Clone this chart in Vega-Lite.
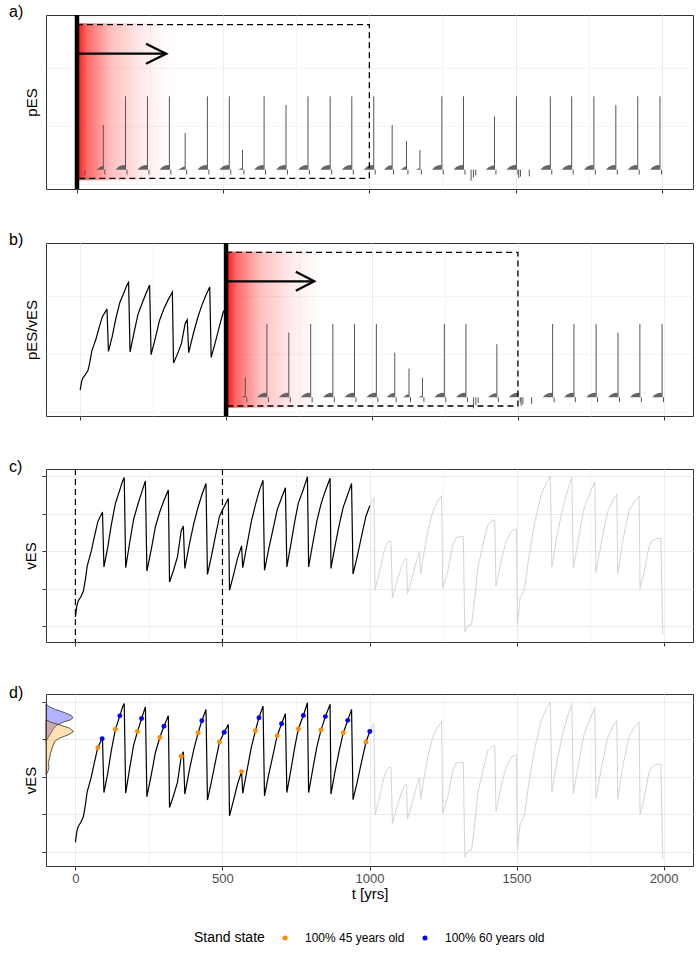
{
"$schema": "https://vega.github.io/schema/vega-lite/v6.json",
"background": "white",
"padding": {"left": 8, "top": 3, "right": 8, "bottom": 5},
"spacing": 37,
"config": {
 "font": "Liberation Sans",
 "view": {"stroke": "#333333", "strokeWidth": 1},
 "axis": {"domain": false, "grid": true, "gridColor": "#EBEBEB", "tickColor": "#333333", "tickSize": 4, "tickWidth": 1, "labels": false, "titleFont": "Liberation Sans", "titleFontWeight": "normal", "titleFontSize": 15, "titleColor": "#000000", "titlePadding": 3, "labelFont": "Liberation Sans", "labelFontSize": 13, "labelColor": "#4D4D4D", "labelPadding": 2},
 "title": {"font": "Liberation Sans", "fontSize": 16, "fontWeight": "normal", "anchor": "start", "frame": "group", "dx": -37, "offset": -7, "color": "#000000"},
 "legend": {"titleFont": "Liberation Sans", "titleFontSize": 14, "titleFontWeight": "normal", "titleColor": "#000000", "labelFont": "Liberation Sans", "labelFontSize": 12, "labelColor": "#000000", "symbolType": "circle", "symbolSize": 25, "labelOffset": 14, "columnPadding": 14, "titlePadding": 14}
},
"datasets": {
 "series": [
  {"t":0,"v":0.25,"h":1},{"t":5,"v":0.55,"h":1},{"t":10,"v":0.68,"h":1},{"t":18,"v":0.78,"h":1},{"t":27,"v":0.93,"h":1},{"t":34,"v":1.25,"h":1},{"t":40,"v":1.6,"h":1},{"t":47,"v":1.8,"h":1},{"t":54,"v":2.0,"h":1},{"t":65,"v":2.4,"h":1},{"t":76,"v":2.78,"h":1},{"t":85,"v":2.93,"h":1},{"t":91,"v":3.02,"h":1},{"t":92,"v":3.04,"h":1},{"t":97,"v":1.58,"h":1},{"t":110,"v":2.1,"h":1},{"t":122,"v":2.7,"h":1},{"t":136,"v":3.27,"h":1},{"t":151,"v":3.63,"h":1},{"t":160,"v":3.86,"h":1},{"t":166,"v":3.96,"h":1},{"t":171,"v":1.56,"h":1},{"t":185,"v":2.25,"h":1},{"t":198,"v":2.85,"h":1},{"t":211,"v":3.21,"h":1},{"t":225,"v":3.56,"h":1},{"t":238,"v":3.87,"h":1},{"t":243,"v":1.47,"h":1},{"t":258,"v":2.05,"h":1},{"t":272,"v":2.65,"h":1},{"t":287,"v":3.05,"h":1},{"t":301,"v":3.35,"h":1},{"t":316,"v":3.63,"h":1},{"t":320,"v":1.18,"h":1},{"t":333,"v":1.48,"h":1},{"t":347,"v":1.85,"h":1},{"t":360,"v":2.55,"h":1},{"t":367,"v":2.67,"h":1},{"t":372,"v":1.54,"h":1},{"t":388,"v":2.2,"h":1},{"t":403,"v":2.75,"h":1},{"t":417,"v":3.17,"h":1},{"t":430,"v":3.5,"h":1},{"t":444,"v":3.8,"h":1},{"t":449,"v":1.38,"h":1},{"t":462,"v":1.85,"h":1},{"t":476,"v":2.4,"h":1},{"t":490,"v":2.93,"h":1},{"t":506,"v":3.19,"h":1},{"t":520,"v":3.4,"h":1},{"t":524,"v":0.96,"h":1},{"t":537,"v":1.35,"h":1},{"t":551,"v":1.8,"h":1},{"t":565,"v":2.14,"h":1},{"t":569,"v":1.56,"h":1},{"t":583,"v":2.15,"h":1},{"t":598,"v":2.78,"h":1},{"t":612,"v":3.23,"h":1},{"t":624,"v":3.58,"h":1},{"t":638,"v":3.89,"h":1},{"t":643,"v":1.49,"h":1},{"t":657,"v":2.05,"h":1},{"t":671,"v":2.55,"h":1},{"t":686,"v":3.1,"h":1},{"t":701,"v":3.42,"h":1},{"t":714,"v":3.69,"h":1},{"t":719,"v":1.58,"h":1},{"t":733,"v":2.2,"h":1},{"t":746,"v":2.8,"h":1},{"t":758,"v":3.28,"h":1},{"t":775,"v":3.64,"h":1},{"t":789,"v":3.98,"h":1},{"t":793,"v":1.58,"h":1},{"t":807,"v":2.2,"h":1},{"t":821,"v":2.8,"h":1},{"t":835,"v":3.25,"h":1},{"t":850,"v":3.61,"h":1},{"t":866,"v":3.94,"h":1},{"t":869,"v":1.54,"h":1},{"t":883,"v":2.15,"h":1},{"t":897,"v":2.7,"h":1},{"t":911,"v":3.18,"h":1},{"t":926,"v":3.51,"h":1},{"t":939,"v":3.8,"h":1},{"t":944,"v":1.39,"h":1},{"t":958,"v":1.85,"h":1},{"t":973,"v":2.4,"h":1},{"t":988,"v":2.93,"h":1},{"t":1001,"v":3.21,"h":1},
  {"t":1001,"v":3.21,"h":2},{"t":1015,"v":3.43,"h":2},{"t":1019,"v":0.98,"h":2},{"t":1034,"v":1.45,"h":2},{"t":1050,"v":2.0,"h":2},{"t":1058,"v":2.18,"h":2},{"t":1064,"v":2.25,"h":2},{"t":1073,"v":2.25,"h":2},{"t":1078,"v":0.76,"h":2},{"t":1096,"v":1.27,"h":2},{"t":1112,"v":1.65,"h":2},{"t":1120,"v":1.78,"h":2},{"t":1126,"v":1.8,"h":2},{"t":1129,"v":0.87,"h":2},{"t":1147,"v":1.36,"h":2},{"t":1162,"v":1.8,"h":2},{"t":1170,"v":1.98,"h":2},{"t":1174,"v":1.4,"h":2},{"t":1185,"v":1.95,"h":2},{"t":1198,"v":2.52,"h":2},{"t":1215,"v":3.05,"h":2},{"t":1230,"v":3.3,"h":2},{"t":1245,"v":3.48,"h":2},{"t":1249,"v":1.02,"h":2},{"t":1266,"v":1.45,"h":2},{"t":1283,"v":2.16,"h":2},{"t":1294,"v":2.36,"h":2},{"t":1305,"v":2.38,"h":2},{"t":1319,"v":2.39,"h":2},{"t":1324,"v":-0.15,"h":2},{"t":1335,"v":0.02,"h":2},{"t":1347,"v":0.04,"h":2},{"t":1359,"v":0.83,"h":2},{"t":1368,"v":1.54,"h":2},{"t":1385,"v":2.16,"h":2},{"t":1402,"v":2.69,"h":2},{"t":1415,"v":2.8,"h":2},{"t":1426,"v":2.83,"h":2},{"t":1430,"v":1.08,"h":2},{"t":1447,"v":1.72,"h":2},{"t":1464,"v":2.25,"h":2},{"t":1481,"v":2.52,"h":2},{"t":1495,"v":2.58,"h":2},{"t":1500,"v":2.59,"h":2},{"t":1503,"v":0.04,"h":2},{"t":1512,"v":0.75,"h":2},{"t":1520,"v":0.85,"h":2},{"t":1528,"v":1.05,"h":2},{"t":1543,"v":1.89,"h":2},{"t":1560,"v":2.69,"h":2},{"t":1583,"v":3.49,"h":2},{"t":1600,"v":3.8,"h":2},{"t":1615,"v":4.0,"h":2},{"t":1620,"v":1.58,"h":2},{"t":1637,"v":2.4,"h":2},{"t":1657,"v":3.14,"h":2},{"t":1675,"v":3.65,"h":2},{"t":1688,"v":3.96,"h":2},{"t":1693,"v":1.54,"h":2},{"t":1712,"v":2.4,"h":2},{"t":1730,"v":3.14,"h":2},{"t":1750,"v":3.55,"h":2},{"t":1766,"v":3.85,"h":2},{"t":1770,"v":1.43,"h":2},{"t":1790,"v":2.3,"h":2},{"t":1810,"v":3.05,"h":2},{"t":1828,"v":3.35,"h":2},{"t":1841,"v":3.52,"h":2},{"t":1844,"v":1.4,"h":2},{"t":1863,"v":2.35,"h":2},{"t":1883,"v":3.09,"h":2},{"t":1900,"v":3.32,"h":2},{"t":1917,"v":3.47,"h":2},{"t":1920,"v":1.0,"h":2},{"t":1934,"v":1.45,"h":2},{"t":1950,"v":2.1,"h":2},{"t":1960,"v":2.27,"h":2},{"t":1975,"v":2.33,"h":2},{"t":1991,"v":2.34,"h":2},{"t":1997,"v":-0.2,"h":2}
 ],
 "pts": [
  {"t":76,"v":2.78,"g":"100% 45 years old"},{"t":136,"v":3.27,"g":"100% 45 years old"},{"t":211,"v":3.21,"g":"100% 45 years old"},{"t":287,"v":3.05,"g":"100% 45 years old"},{"t":360,"v":2.55,"g":"100% 45 years old"},{"t":417,"v":3.17,"g":"100% 45 years old"},{"t":490,"v":2.93,"g":"100% 45 years old"},{"t":565,"v":2.14,"g":"100% 45 years old"},{"t":612,"v":3.23,"g":"100% 45 years old"},{"t":686,"v":3.1,"g":"100% 45 years old"},{"t":758,"v":3.28,"g":"100% 45 years old"},{"t":835,"v":3.25,"g":"100% 45 years old"},{"t":911,"v":3.18,"g":"100% 45 years old"},{"t":988,"v":2.93,"g":"100% 45 years old"},
  {"t":91,"v":3.02,"g":"100% 60 years old"},{"t":151,"v":3.63,"g":"100% 60 years old"},{"t":225,"v":3.56,"g":"100% 60 years old"},{"t":301,"v":3.35,"g":"100% 60 years old"},{"t":430,"v":3.5,"g":"100% 60 years old"},{"t":506,"v":3.19,"g":"100% 60 years old"},{"t":624,"v":3.58,"g":"100% 60 years old"},{"t":701,"v":3.42,"g":"100% 60 years old"},{"t":775,"v":3.64,"g":"100% 60 years old"},{"t":850,"v":3.61,"g":"100% 60 years old"},{"t":926,"v":3.51,"g":"100% 60 years old"},{"t":1001,"v":3.21,"g":"100% 60 years old"}
 ],
 "dens": [
  {"g":"b","v":3.95,"t":-100},{"g":"b","v":3.88,"t":-90},{"g":"b","v":3.8,"t":-68},{"g":"b","v":3.72,"t":-38},{"g":"b","v":3.64,"t":-14},{"g":"b","v":3.58,"t":-8},{"g":"b","v":3.52,"t":-18},{"g":"b","v":3.45,"t":-45},{"g":"b","v":3.37,"t":-66},{"g":"b","v":3.27,"t":-76},{"g":"b","v":3.17,"t":-83},{"g":"b","v":3.07,"t":-91},{"g":"b","v":2.95,"t":-100},
  {"g":"o","v":3.52,"t":-100},{"g":"o","v":3.45,"t":-80},{"g":"o","v":3.38,"t":-50},{"g":"o","v":3.3,"t":-20},{"g":"o","v":3.21,"t":-6},{"g":"o","v":3.12,"t":-25},{"g":"o","v":3.03,"t":-55},{"g":"o","v":2.95,"t":-70},{"g":"o","v":2.8,"t":-78},{"g":"o","v":2.65,"t":-84},{"g":"o","v":2.5,"t":-88},{"g":"o","v":2.38,"t":-92},{"g":"o","v":2.28,"t":-90},{"g":"o","v":2.2,"t":-91},{"g":"o","v":2.12,"t":-95},{"g":"o","v":2.05,"t":-100}
 ],
 "spikes": [
  {"id":1,"t":90,"p":1.54},{"id":2,"t":166,"p":2.53},{"id":3,"t":241,"p":2.53},{"id":4,"t":316,"p":2.53},{"id":5,"t":370,"p":1.26},{"id":6,"t":446,"p":2.53},{"id":7,"t":521,"p":2.53},{"id":8,"t":566,"p":0.68},{"id":9,"t":640,"p":2.53},{"id":10,"t":715,"p":2.23},{"id":11,"t":790,"p":2.53},{"id":12,"t":866,"p":2.53},{"id":13,"t":940,"p":2.53},{"id":14,"t":1015,"p":2.53},{"id":15,"t":1078,"p":1.54},{"id":16,"t":1127,"p":0.99},{"id":17,"t":1173,"p":0.68},{"id":18,"t":1248,"p":2.53},{"id":19,"t":1322,"p":2.53},{"id":20,"t":1428,"p":1.83},{"id":21,"t":1503,"p":2.53},{"id":22,"t":1619,"p":2.53},{"id":23,"t":1692,"p":2.53},{"id":24,"t":1768,"p":2.53},{"id":25,"t":1843,"p":2.23},{"id":26,"t":1918,"p":2.53},{"id":27,"t":1994,"p":2.53}
 ],
 "humps": [
  {"id":1,"t":66,"p":0},{"id":1,"t":74,"p":0.06},{"id":1,"t":82,"p":0.11},{"id":1,"t":89,"p":0.13},
  {"id":2,"t":132,"p":0},{"id":2,"t":142,"p":0.1},{"id":2,"t":154,"p":0.15},{"id":2,"t":165,"p":0.16},
  {"id":3,"t":207,"p":0},{"id":3,"t":217,"p":0.1},{"id":3,"t":229,"p":0.15},{"id":3,"t":240,"p":0.16},
  {"id":4,"t":282,"p":0},{"id":4,"t":292,"p":0.1},{"id":4,"t":304,"p":0.15},{"id":4,"t":315,"p":0.16},
  {"id":5,"t":346,"p":0},{"id":5,"t":356,"p":0.06},{"id":5,"t":364,"p":0.1},{"id":5,"t":369,"p":0.11},
  {"id":6,"t":412,"p":0},{"id":6,"t":422,"p":0.1},{"id":6,"t":434,"p":0.15},{"id":6,"t":445,"p":0.16},
  {"id":7,"t":487,"p":0},{"id":7,"t":497,"p":0.1},{"id":7,"t":509,"p":0.15},{"id":7,"t":520,"p":0.16},
  {"id":8,"t":552,"p":0},{"id":8,"t":560,"p":0.04},{"id":8,"t":565,"p":0.05},
  {"id":9,"t":606,"p":0},{"id":9,"t":616,"p":0.1},{"id":9,"t":628,"p":0.15},{"id":9,"t":639,"p":0.16},
  {"id":10,"t":681,"p":0},{"id":10,"t":691,"p":0.1},{"id":10,"t":703,"p":0.15},{"id":10,"t":714,"p":0.16},
  {"id":11,"t":756,"p":0},{"id":11,"t":766,"p":0.1},{"id":11,"t":778,"p":0.15},{"id":11,"t":789,"p":0.16},
  {"id":12,"t":832,"p":0},{"id":12,"t":842,"p":0.1},{"id":12,"t":854,"p":0.15},{"id":12,"t":865,"p":0.16},
  {"id":13,"t":906,"p":0},{"id":13,"t":916,"p":0.1},{"id":13,"t":928,"p":0.15},{"id":13,"t":939,"p":0.16},
  {"id":14,"t":981,"p":0},{"id":14,"t":991,"p":0.1},{"id":14,"t":1003,"p":0.15},{"id":14,"t":1014,"p":0.16},
  {"id":15,"t":1050,"p":0},{"id":15,"t":1060,"p":0.09},{"id":15,"t":1068,"p":0.14},{"id":15,"t":1077,"p":0.15},
  {"id":16,"t":1107,"p":0},{"id":16,"t":1115,"p":0.06},{"id":16,"t":1121,"p":0.1},{"id":16,"t":1126,"p":0.11},
  {"id":17,"t":1159,"p":0},{"id":17,"t":1167,"p":0.04},{"id":17,"t":1172,"p":0.05},
  {"id":18,"t":1214,"p":0},{"id":18,"t":1224,"p":0.1},{"id":18,"t":1236,"p":0.15},{"id":18,"t":1247,"p":0.16},
  {"id":19,"t":1288,"p":0},{"id":19,"t":1298,"p":0.1},{"id":19,"t":1310,"p":0.15},{"id":19,"t":1321,"p":0.16},
  {"id":20,"t":1398,"p":0},{"id":20,"t":1408,"p":0.08},{"id":20,"t":1418,"p":0.13},{"id":20,"t":1427,"p":0.14},
  {"id":21,"t":1469,"p":0},{"id":21,"t":1479,"p":0.1},{"id":21,"t":1491,"p":0.15},{"id":21,"t":1502,"p":0.16},
  {"id":22,"t":1585,"p":0},{"id":22,"t":1595,"p":0.1},{"id":22,"t":1607,"p":0.15},{"id":22,"t":1618,"p":0.16},
  {"id":23,"t":1658,"p":0},{"id":23,"t":1668,"p":0.1},{"id":23,"t":1680,"p":0.15},{"id":23,"t":1691,"p":0.16},
  {"id":24,"t":1734,"p":0},{"id":24,"t":1744,"p":0.1},{"id":24,"t":1756,"p":0.15},{"id":24,"t":1767,"p":0.16},
  {"id":25,"t":1809,"p":0},{"id":25,"t":1819,"p":0.1},{"id":25,"t":1831,"p":0.15},{"id":25,"t":1842,"p":0.16},
  {"id":26,"t":1884,"p":0},{"id":26,"t":1894,"p":0.1},{"id":26,"t":1906,"p":0.15},{"id":26,"t":1917,"p":0.16},
  {"id":27,"t":1960,"p":0},{"id":27,"t":1970,"p":0.1},{"id":27,"t":1982,"p":0.15},{"id":27,"t":1993,"p":0.16}
 ],
 "negs": [
  {"t":27,"p":-0.2},{"t":95,"p":-0.17},{"t":171,"p":-0.17},{"t":246,"p":-0.17},{"t":321,"p":-0.17},{"t":375,"p":-0.17},{"t":451,"p":-0.17},{"t":526,"p":-0.17},{"t":571,"p":-0.17},{"t":645,"p":-0.17},{"t":720,"p":-0.17},{"t":795,"p":-0.17},{"t":871,"p":-0.17},{"t":945,"p":-0.17},{"t":1020,"p":-0.17},{"t":1083,"p":-0.17},{"t":1132,"p":-0.17},{"t":1178,"p":-0.17},{"t":1253,"p":-0.17},{"t":1327,"p":-0.17},{"t":1348,"p":-0.38},{"t":1356,"p":-0.27},{"t":1364,"p":-0.2},{"t":1433,"p":-0.17},{"t":1508,"p":-0.17},{"t":1511,"p":-0.29},{"t":1517,"p":-0.24},{"t":1547,"p":-0.23},{"t":1624,"p":-0.17},{"t":1697,"p":-0.17},{"t":1773,"p":-0.17},{"t":1848,"p":-0.17},{"t":1923,"p":-0.17},{"t":1999,"p":-0.17}
 ],
 "arrows": [
  {"panel":"a","part":"s","seq":1,"t":0,"y":4},{"panel":"a","part":"s","seq":2,"t":303,"y":4},
  {"panel":"a","part":"h","seq":1,"t":236,"y":4.345},{"panel":"a","part":"h","seq":2,"t":305,"y":4},{"panel":"a","part":"h","seq":3,"t":236,"y":3.655},
  {"panel":"b","part":"s","seq":1,"t":500,"y":4},{"panel":"b","part":"s","seq":2,"t":800,"y":4},
  {"panel":"b","part":"h","seq":1,"t":739,"y":4.33},{"panel":"b","part":"h","seq":2,"t":802,"y":4},{"panel":"b","part":"h","seq":3,"t":739,"y":3.67}
 ],
 "glow": [
  {"panel":"a","t1":0,"t2":330,"y1":5.05,"y2":-0.37},
  {"panel":"b","t1":500,"t2":830,"y1":5.03,"y2":-0.36}
 ],
 "frames": [
  {"panel":"a","t1":0,"t2":1000,"y1":5,"y2":-0.3},
  {"panel":"b","t1":500,"t2":1500,"y1":5,"y2":-0.3}
 ],
 "vlines": [
  {"panel":"a","t":0},{"panel":"b","t":500},{"panel":"c","t":0},{"panel":"c","t":500}
 ]
},
"vconcat": [
 {
  "title": "a)",
  "width": 647, "height": 174,
  "layer": [
   {"data": {"name": "glow"}, "transform": [{"filter": "datum.panel == 'a'"}],
    "mark": {"type": "rect", "fill": {"gradient": "linear", "x1": 0, "y1": 0, "x2": 1, "y2": 0, "stops": [{"offset": 0, "color": "rgba(255,0,0,0.95)"}, {"offset": 0.1, "color": "rgba(255,0,0,0.6)"}, {"offset": 0.35, "color": "rgba(255,0,0,0.25)"}, {"offset": 0.7, "color": "rgba(255,0,0,0.07)"}, {"offset": 1, "color": "rgba(255,0,0,0)"}]}},
    "encoding": {
     "x": {"field": "t1", "type": "quantitative", "scale": {"domain": [-106, 2107], "nice": false, "zero": false},
      "axis": {"values": [0,250,500,750,1000,1250,1500,1750,2000], "title": null, "labels": false, "tickOpacity": {"condition": {"test": "datum.value % 500 === 0", "value": 1}, "value": 0}, "gridWidth": {"condition": {"test": "datum.value % 500 === 0", "value": 1}, "value": 0.5}}},
     "x2": {"field": "t2"},
     "y": {"field": "y1", "type": "quantitative", "scale": {"domain": [-0.668, 5.334], "nice": false, "zero": false},
      "axis": {"values": [-0.5,0,0.5,1,1.5,2,2.5,3,3.5,4,4.5,5], "title": "pES", "labels": false, "tickOpacity": {"condition": {"test": "datum.value % 1 === 0", "value": 1}, "value": 0}, "gridWidth": {"condition": {"test": "datum.value % 1 === 0", "value": 1}, "value": 0.5}}},
     "y2": {"field": "y2"}}},
   {"data": {"name": "humps"},
    "mark": {"type": "area", "orient": "vertical", "color": "#555555", "opacity": 0.9},
    "encoding": {"x": {"field": "t", "type": "quantitative"}, "y": {"field": "p", "type": "quantitative", "stack": null}, "y2": {"datum": 0}, "detail": {"field": "id"}}},
   {"data": {"name": "spikes"},
    "mark": {"type": "rule", "color": "#555555", "strokeWidth": 1},
    "encoding": {"x": {"field": "t", "type": "quantitative"}, "y": {"field": "p", "type": "quantitative"}, "y2": {"datum": 0}}},
   {"data": {"name": "negs"},
    "mark": {"type": "rule", "color": "#555555", "strokeWidth": 1},
    "encoding": {"x": {"field": "t", "type": "quantitative"}, "y": {"field": "p", "type": "quantitative"}, "y2": {"datum": 0}}},
   {"mark": {"type": "rule", "color": "#000000", "strokeWidth": 1.2},
    "encoding": {"y": {"datum": 0, "type": "quantitative"}}},
   {"data": {"name": "frames"}, "transform": [{"filter": "datum.panel == 'a'"}],
    "mark": {"type": "rect", "fill": null, "fillOpacity": 0, "stroke": "#000000", "strokeWidth": 1.3, "strokeDash": [6, 4]},
    "encoding": {"x": {"field": "t1", "type": "quantitative"}, "x2": {"field": "t2"}, "y": {"field": "y1", "type": "quantitative"}, "y2": {"field": "y2"}}},
   {"data": {"name": "vlines"}, "transform": [{"filter": "datum.panel == 'a'"}],
    "mark": {"type": "rule", "color": "#000000", "strokeWidth": 4.5},
    "encoding": {"x": {"field": "t", "type": "quantitative"}}},
   {"data": {"name": "arrows"}, "transform": [{"filter": "datum.panel == 'a'"}],
    "mark": {"type": "line", "color": "#000000", "strokeWidth": 2.3, "strokeJoin": "miter"},
    "encoding": {"x": {"field": "t", "type": "quantitative"}, "y": {"field": "y", "type": "quantitative"}, "detail": {"field": "part"}, "order": {"field": "seq"}}}
  ]
 },
 {
  "title": "b)",
  "width": 647, "height": 173,
  "layer": [
   {"data": {"name": "glow"}, "transform": [{"filter": "datum.panel == 'b'"}],
    "mark": {"type": "rect", "fill": {"gradient": "linear", "x1": 0, "y1": 0, "x2": 1, "y2": 0, "stops": [{"offset": 0, "color": "rgba(255,0,0,0.95)"}, {"offset": 0.1, "color": "rgba(255,0,0,0.6)"}, {"offset": 0.35, "color": "rgba(255,0,0,0.25)"}, {"offset": 0.7, "color": "rgba(255,0,0,0.07)"}, {"offset": 1, "color": "rgba(255,0,0,0)"}]}},
    "encoding": {
     "x": {"field": "t1", "type": "quantitative", "scale": {"domain": [-117, 2100], "nice": false, "zero": false},
      "axis": {"values": [0,250,500,750,1000,1250,1500,1750,2000], "title": null, "labels": false, "tickOpacity": {"condition": {"test": "datum.value % 500 === 0", "value": 1}, "value": 0}, "gridWidth": {"condition": {"test": "datum.value % 500 === 0", "value": 1}, "value": 0.5}}},
     "x2": {"field": "t2"},
     "y": {"field": "y1", "type": "quantitative", "scale": {"domain": [-0.645, 5.32], "nice": false, "zero": false},
      "axis": {"values": [-0.5,0,0.5,1,1.5,2,2.5,3,3.5,4,4.5,5], "title": "pES/vES", "labels": false, "tickOpacity": {"condition": {"test": "datum.value % 1 === 0", "value": 1}, "value": 0}, "gridWidth": {"condition": {"test": "datum.value % 1 === 0", "value": 1}, "value": 0.5}}},
     "y2": {"field": "y2"}}},
   {"data": {"name": "series"}, "transform": [{"filter": "datum.h == 1 && datum.t <= 506"}],
    "mark": {"type": "line", "color": "#000000", "strokeWidth": 1.2},
    "encoding": {"x": {"field": "t", "type": "quantitative"}, "y": {"field": "v", "type": "quantitative"}}},
   {"data": {"name": "humps"}, "transform": [{"filter": "datum.id >= 8"}],
    "mark": {"type": "area", "orient": "vertical", "color": "#555555", "opacity": 0.9},
    "encoding": {"x": {"field": "t", "type": "quantitative"}, "y": {"field": "p", "type": "quantitative", "stack": null}, "y2": {"datum": 0}, "detail": {"field": "id"}}},
   {"data": {"name": "spikes"}, "transform": [{"filter": "datum.id >= 8 && datum.id != 21"}],
    "mark": {"type": "rule", "color": "#555555", "strokeWidth": 1},
    "encoding": {"x": {"field": "t", "type": "quantitative"}, "y": {"field": "p", "type": "quantitative"}, "y2": {"datum": 0}}},
   {"data": {"name": "negs"}, "transform": [{"filter": "datum.t > 545"}],
    "mark": {"type": "rule", "color": "#555555", "strokeWidth": 1},
    "encoding": {"x": {"field": "t", "type": "quantitative"}, "y": {"field": "p", "type": "quantitative"}, "y2": {"datum": 0}}},
   {"mark": {"type": "rule", "color": "#000000", "strokeWidth": 1.2},
    "encoding": {"y": {"datum": 0, "type": "quantitative"}}},
   {"data": {"name": "frames"}, "transform": [{"filter": "datum.panel == 'b'"}],
    "mark": {"type": "rect", "fill": null, "fillOpacity": 0, "stroke": "#000000", "strokeWidth": 1.3, "strokeDash": [6, 4]},
    "encoding": {"x": {"field": "t1", "type": "quantitative"}, "x2": {"field": "t2"}, "y": {"field": "y1", "type": "quantitative"}, "y2": {"field": "y2"}}},
   {"data": {"name": "vlines"}, "transform": [{"filter": "datum.panel == 'b'"}],
    "mark": {"type": "rule", "color": "#000000", "strokeWidth": 4.5},
    "encoding": {"x": {"field": "t", "type": "quantitative"}}},
   {"data": {"name": "arrows"}, "transform": [{"filter": "datum.panel == 'b'"}],
    "mark": {"type": "line", "color": "#000000", "strokeWidth": 2.3, "strokeJoin": "miter"},
    "encoding": {"x": {"field": "t", "type": "quantitative"}, "y": {"field": "y", "type": "quantitative"}, "detail": {"field": "part"}, "order": {"field": "seq"}}}
  ]
 },
 {
  "title": "c)",
  "width": 647, "height": 173,
  "layer": [
   {"data": {"name": "series"}, "transform": [{"filter": "datum.h == 2"}],
    "mark": {"type": "line", "color": "#D4D4D4", "strokeWidth": 1},
    "encoding": {
     "x": {"field": "t", "type": "quantitative", "scale": {"domain": [-100, 2100], "nice": false, "zero": false},
      "axis": {"values": [0,250,500,750,1000,1250,1500,1750,2000], "title": null, "labels": false, "tickOpacity": {"condition": {"test": "datum.value % 500 === 0", "value": 1}, "value": 0}, "gridWidth": {"condition": {"test": "datum.value % 500 === 0", "value": 1}, "value": 0.5}}},
     "y": {"field": "v", "type": "quantitative", "scale": {"domain": [-0.418, 4.187], "nice": false, "zero": false},
      "axis": {"values": [0,0.5,1,1.5,2,2.5,3,3.5,4], "title": "vES", "labels": false, "tickOpacity": {"condition": {"test": "datum.value % 1 === 0", "value": 1}, "value": 0}, "gridWidth": {"condition": {"test": "datum.value % 1 === 0", "value": 1}, "value": 0.5}}}}},
   {"data": {"name": "series"}, "transform": [{"filter": "datum.h == 1"}],
    "mark": {"type": "line", "color": "#000000", "strokeWidth": 1.2},
    "encoding": {"x": {"field": "t", "type": "quantitative"}, "y": {"field": "v", "type": "quantitative"}}},
   {"data": {"name": "vlines"}, "transform": [{"filter": "datum.panel == 'c'"}],
    "mark": {"type": "rule", "color": "#000000", "strokeWidth": 1.2, "strokeDash": [6, 4]},
    "encoding": {"x": {"field": "t", "type": "quantitative"}}}
  ]
 },
 {
  "title": "d)",
  "width": 647, "height": 172,
  "layer": [
   {"data": {"name": "series"}, "transform": [{"filter": "datum.h == 2"}],
    "mark": {"type": "line", "color": "#D4D4D4", "strokeWidth": 1},
    "encoding": {
     "x": {"field": "t", "type": "quantitative", "scale": {"domain": [-100, 2100], "nice": false, "zero": false},
      "axis": {"values": [0,250,500,750,1000,1250,1500,1750,2000], "title": "t [yrs]", "titlePadding": 1, "labels": true, "format": "d", "labelExpr": "datum.value % 500 === 0 ? datum.label : ''", "tickOpacity": {"condition": {"test": "datum.value % 500 === 0", "value": 1}, "value": 0}, "gridWidth": {"condition": {"test": "datum.value % 500 === 0", "value": 1}, "value": 0.5}}},
     "y": {"field": "v", "type": "quantitative", "scale": {"domain": [-0.384, 4.214], "nice": false, "zero": false},
      "axis": {"values": [0,0.5,1,1.5,2,2.5,3,3.5,4], "title": "vES", "labels": false, "tickOpacity": {"condition": {"test": "datum.value % 1 === 0", "value": 1}, "value": 0}, "gridWidth": {"condition": {"test": "datum.value % 1 === 0", "value": 1}, "value": 0.5}}}}},
   {"data": {"name": "dens"}, "transform": [{"filter": "datum.g == 'b'"}],
    "mark": {"type": "area", "orient": "horizontal", "fill": "#0000FF", "fillOpacity": 0.3, "stroke": "#333333", "strokeWidth": 0.8},
    "encoding": {"y": {"field": "v", "type": "quantitative"}, "x": {"field": "t", "type": "quantitative", "stack": null}, "x2": {"datum": -100}}},
   {"data": {"name": "dens"}, "transform": [{"filter": "datum.g == 'o'"}],
    "mark": {"type": "area", "orient": "horizontal", "fill": "#FF9900", "fillOpacity": 0.3, "stroke": "#333333", "strokeWidth": 0.8},
    "encoding": {"y": {"field": "v", "type": "quantitative"}, "x": {"field": "t", "type": "quantitative", "stack": null}, "x2": {"datum": -100}}},
   {"data": {"name": "series"}, "transform": [{"filter": "datum.h == 1"}],
    "mark": {"type": "line", "color": "#000000", "strokeWidth": 1.2},
    "encoding": {"x": {"field": "t", "type": "quantitative"}, "y": {"field": "v", "type": "quantitative"}}},
   {"data": {"name": "pts"},
    "mark": {"type": "point", "filled": true, "size": 24, "opacity": 1},
    "encoding": {"x": {"field": "t", "type": "quantitative"}, "y": {"field": "v", "type": "quantitative"},
     "color": {"field": "g", "type": "nominal", "scale": {"domain": ["100% 45 years old", "100% 60 years old"], "range": ["#FF8C00", "#0000FF"]},
      "legend": {"title": "Stand state", "orient": "none", "legendX": 148, "legendY": 917, "direction": "horizontal", "titleOrient": "left"}}}}
  ]
 }
]
}
